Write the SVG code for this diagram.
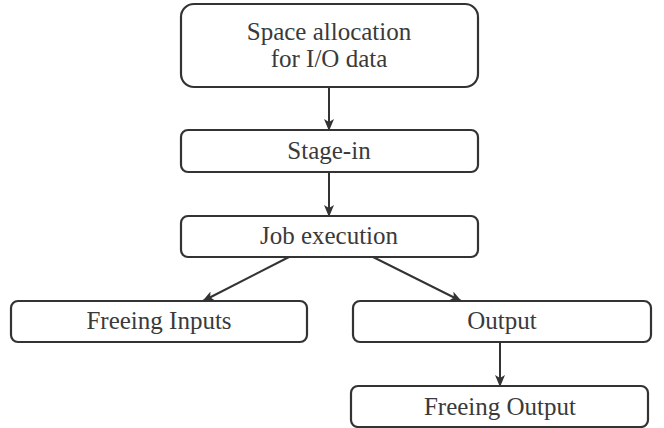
<svg xmlns="http://www.w3.org/2000/svg" width="664" height="428" viewBox="0 0 664 428">
<defs>
<style>
.box{fill:#fff;stroke:#333;stroke-width:2.2}
.lbl{font-family:"Liberation Serif","Times New Roman",serif;font-size:25px;fill:#3a3a3a;text-anchor:middle}
.conn{stroke:#333;stroke-width:2;fill:none;marker-end:url(#ah)}
</style>
<marker id="ah" viewBox="0 0 12 10" refX="11" refY="5" markerWidth="12" markerHeight="10" markerUnits="userSpaceOnUse" orient="auto">
<path d="M0,0 L12,5 L0,10 L3,5 Z" fill="#333"/>
</marker>
</defs>
<g id="n1"><rect class="box" x="181" y="4" width="297" height="83" rx="13"/><text class="lbl" x="329" y="40">Space allocation</text><text class="lbl" x="329" y="67">for I/O data</text></g>
<g id="n2"><rect class="box" x="181" y="130" width="297" height="42" rx="7"/><text class="lbl" x="329" y="159">Stage-in</text></g>
<g id="n3"><rect class="box" x="181" y="216" width="297" height="41" rx="7"/><text class="lbl" x="329" y="244">Job execution</text></g>
<g id="n4"><rect class="box" x="11" y="301" width="296" height="41" rx="7"/><text class="lbl" x="159" y="329">Freeing Inputs</text></g>
<g id="n5"><rect class="box" x="353" y="301" width="298" height="41" rx="7"/><text class="lbl" x="502" y="329">Output</text></g>
<g id="n6"><rect class="box" x="351" y="386" width="297" height="41" rx="7"/><text class="lbl" x="500" y="415">Freeing Output</text></g>
<g id="connectors">
<line class="conn" x1="329" y1="87" x2="329" y2="130"/>
<line class="conn" x1="329" y1="172" x2="329" y2="216"/>
<line class="conn" x1="289" y1="257" x2="203" y2="301"/>
<line class="conn" x1="373" y1="257" x2="461" y2="301"/>
<line class="conn" x1="500" y1="342" x2="500" y2="386"/>
</g>
</svg>
